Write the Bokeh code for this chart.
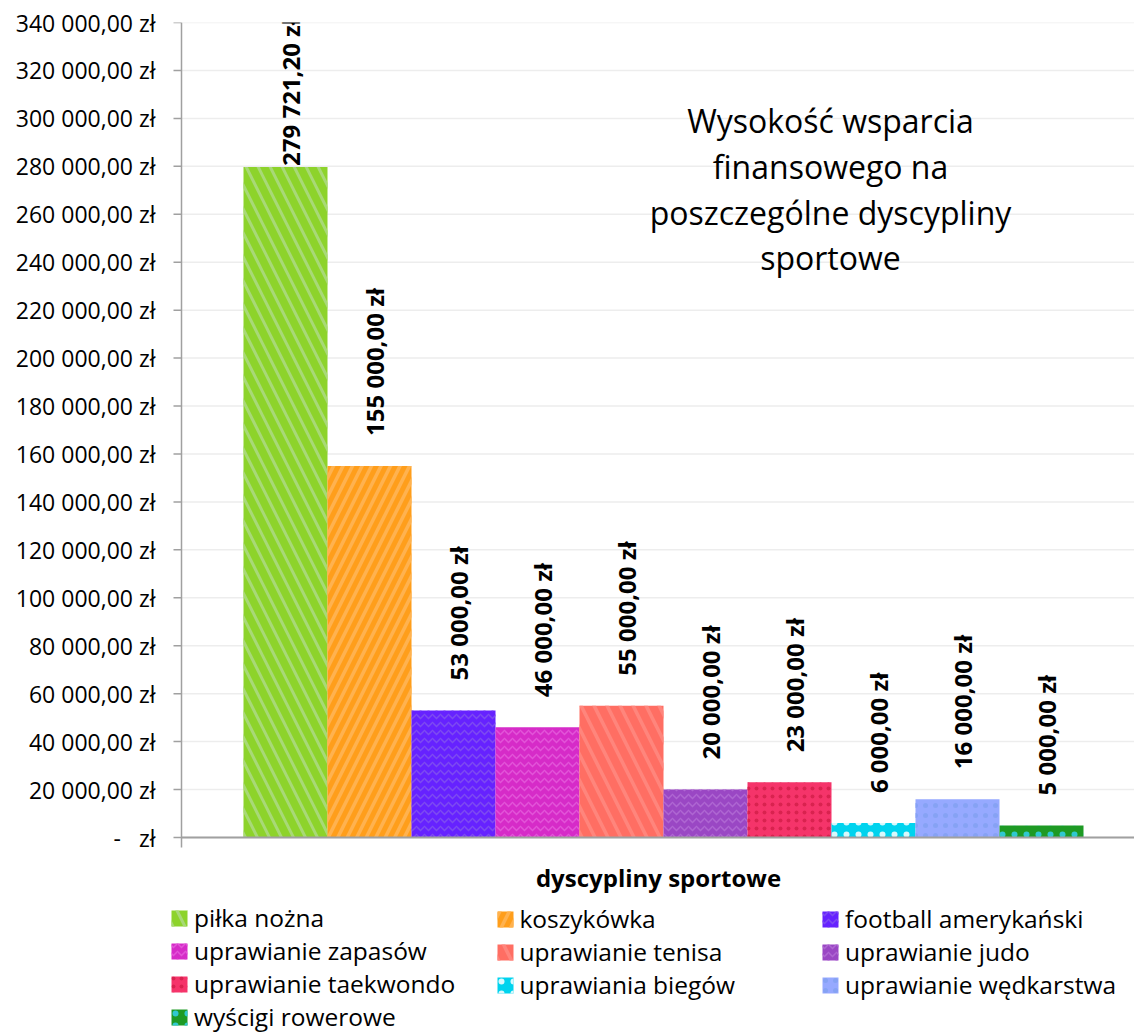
import math
from bokeh.plotting import figure
from bokeh.models import Range1d, FixedTicker, Legend, LegendItem, Label, ColumnDataSource
from bokeh.core.properties import value
from bokeh.embed import file_html
from bokeh.resources import INLINE

# ---------------- data ----------------
categories = [
    "piłka nożna", "koszykówka", "football amerykański", "uprawianie zapasów",
    "uprawianie tenisa", "uprawianie judo", "uprawianie taekwondo",
    "uprawiania biegów", "uprawianie wędkarstwa", "wyścigi rowerowe",
]
amounts = [279721.20, 155000, 53000, 46000, 55000, 20000, 23000, 6000, 16000, 5000]
value_labels = [
    "279 721,20 zł", "155 000,00 zł", "53 000,00 zł", "46 000,00 zł", "55 000,00 zł",
    "20 000,00 zł", "23 000,00 zł", "6 000,00 zł", "16 000,00 zł", "5 000,00 zł",
]
tick_values = [0, 20000, 40000, 60000, 80000, 100000, 120000, 140000, 160000, 180000,
               200000, 220000, 240000, 260000, 280000, 300000, 320000, 340000]
tick_labels = ["-\u00a0\u00a0\u00a0zł", "20 000,00 zł", "40 000,00 zł", "60 000,00 zł",
               "80 000,00 zł", "100 000,00 zł", "120 000,00 zł", "140 000,00 zł",
               "160 000,00 zł", "180 000,00 zł", "200 000,00 zł", "220 000,00 zł",
               "240 000,00 zł", "260 000,00 zł", "280 000,00 zł", "300 000,00 zł",
               "320 000,00 zł", "340 000,00 zł"]
title_lines = ["Wysokość wsparcia", "finansowego na", "poszczególne dyscypliny", "sportowe"]
x_title = "dyscypliny sportowe"

# ---------------- styles ----------------
bar_colors = ["#8DD32B", "#FF9E1B", "#6622FF", "#D62BC8", "#FF6E63",
              "#9A47C4", "#F5346A", "#00D3EE", "#96A9FF", "#1E9A24"]
hatch_colors = ["#A8D977", "#FFB24F", "#7D4BF0", "#E254D8", "#FF857C",
                "#AE66D2", "#D9224F", "#D8F8FC", "#86A2F4", "#30C8D0"]
hatch_patterns = ["left_diagonal_line", "right_diagonal_line", "horizontal_wave",
                  "horizontal_wave", "left_diagonal_line", "horizontal_wave",
                  "dot", "dot", "dot", "dot"]
hatch_scales = [24, 19, 8, 8, 26, 8, 8, 12, 10, 12]
hatch_weights = [3, 3.5, 1.5, 1.5, 3.5, 1.5, 1.2, 0.5, 3, 0.5]
label_shift = [-1, -30, -30, -30, -30, -30, -30, -30, -30, -30]

FONT = "Open Sans"
W, H = 1134, 1034
LEFT, TOP = 160, 22
BAR_PX = 84.0
AXIS_PX = 837.0          # page y of the zero line
AXIS_X_PX = 181.0        # page x of the value axis line
BAR0_PX = 243.0          # page x of the first bar's left edge
Y_MAX = 340000
PX_PER_UNIT = (AXIS_PX - TOP) / Y_MAX

def px_x(px):
    return (px - BAR0_PX) / BAR_PX

def px_y(py):
    return (AXIS_PX - py) / PX_PER_UNIT

x_start = px_x(LEFT)
x_end = px_x(W)
y_start = px_y(H)
axis_x = px_x(AXIS_X_PX)
tick_x0 = px_x(AXIS_X_PX - 8)

p = figure(width=W, height=H, output_backend="svg", toolbar_location=None,
           x_range=Range1d(x_start, x_end), y_range=Range1d(y_start, Y_MAX),
           min_border_left=LEFT, min_border_right=0,
           min_border_top=TOP, min_border_bottom=0)
p.outline_line_color = None
p.background_fill_color = "white"
p.border_fill_color = "white"
p.xaxis.visible = False
p.xgrid.visible = False
p.ygrid.visible = False

# y axis: only the tick labels come from the axis
yax = p.yaxis[0]
yax.ticker = FixedTicker(ticks=tick_values)
yax.major_label_overrides = {t: l for t, l in zip(tick_values, tick_labels)}
yax.axis_line_color = None
yax.major_tick_line_color = None
yax.major_tick_out = 0
yax.major_tick_in = 0
yax.minor_tick_out = 0
yax.minor_tick_in = 0
yax.major_label_standoff = 5
yax.major_label_text_font = FONT
yax.major_label_text_font_size = "23px"
yax.major_label_text_color = "#000000"

# horizontal grid lines from the value axis to the right edge
p.segment(x0=[axis_x] * len(tick_values), y0=tick_values,
          x1=[x_end] * len(tick_values), y1=tick_values,
          line_color="#EDEDED", line_width=1.5)

# bars
bars = []
for i, (cat, amt) in enumerate(zip(categories, amounts)):
    src = ColumnDataSource(dict(x=[i + 0.5], top=[amt]))
    r = p.vbar(x="x", top="top", bottom=0, width=1.0, source=src,
               fill_color=bar_colors[i], line_color=None,
               hatch_pattern=hatch_patterns[i], hatch_color=hatch_colors[i],
               hatch_scale=hatch_scales[i], hatch_weight=hatch_weights[i])
    bars.append(r)

# axis lines and tick marks
p.segment(x0=[tick_x0] * len(tick_values), y0=tick_values,
          x1=[axis_x] * len(tick_values), y1=tick_values,
          line_color="#A0A0A0", line_width=1.5)
p.segment(x0=[axis_x], y0=[0], x1=[x_end], y1=[0], line_color="#A0A0A0", line_width=2)
p.segment(x0=[axis_x], y0=[px_y(847)], x1=[axis_x], y1=[Y_MAX],
          line_color="#A0A0A0", line_width=1.5)

# value labels
lab_src = ColumnDataSource(dict(
    x=[i + 0.5 for i in range(len(amounts))], y=amounts, text=value_labels, yo=label_shift))
p.text(x="x", y="y", text="text", source=lab_src, angle=math.pi / 2,
       text_align="left", text_baseline="middle", x_offset=5, y_offset="yo",
       text_font=value(FONT), text_font_style="bold", text_font_size="24px",
       text_color="#000000")

# chart title inside the plot
for line, base in zip(title_lines, [120, 166, 211.5, 257]):
    p.add_layout(Label(x=px_x(830), y=px_y(base), text=line, text_align="center",
                       text_baseline="alphabetic", text_font=FONT, text_font_size="32px",
                       text_color="#000000"))

# x axis title
p.add_layout(Label(x=px_x(658), y=px_y(877), text=x_title, text_align="center",
                   text_baseline="middle", text_font=FONT, text_font_style="bold",
                   text_font_size="24px", text_color="#000000"))

# legend: three columns, row-major order
ROW = 32
GLYPH = 20
cols = [[0, 3, 6, 9], [1, 4, 7], [2, 5, 8]]
col_px = [169, 494.5, 820]
legend_top_px = 921 - ROW / 2.0
for c, idxs in enumerate(cols):
    bottom_px = legend_top_px + ROW * len(idxs)
    leg = Legend(items=[LegendItem(label=categories[i], renderers=[bars[i]]) for i in idxs],
                 location=(col_px[c] - LEFT, H - bottom_px),
                 orientation="vertical", padding=0, margin=0, spacing=0,
                 label_height=ROW, glyph_height=GLYPH, glyph_width=GLYPH, label_standoff=5,
                 label_text_font=FONT, label_text_font_size="24.5px",
                 label_text_color="#000000", label_text_baseline="middle",
                 border_line_color=None, background_fill_alpha=0)
    p.add_layout(leg, "center")

open("out.html", "w").write(file_html(p, INLINE))
